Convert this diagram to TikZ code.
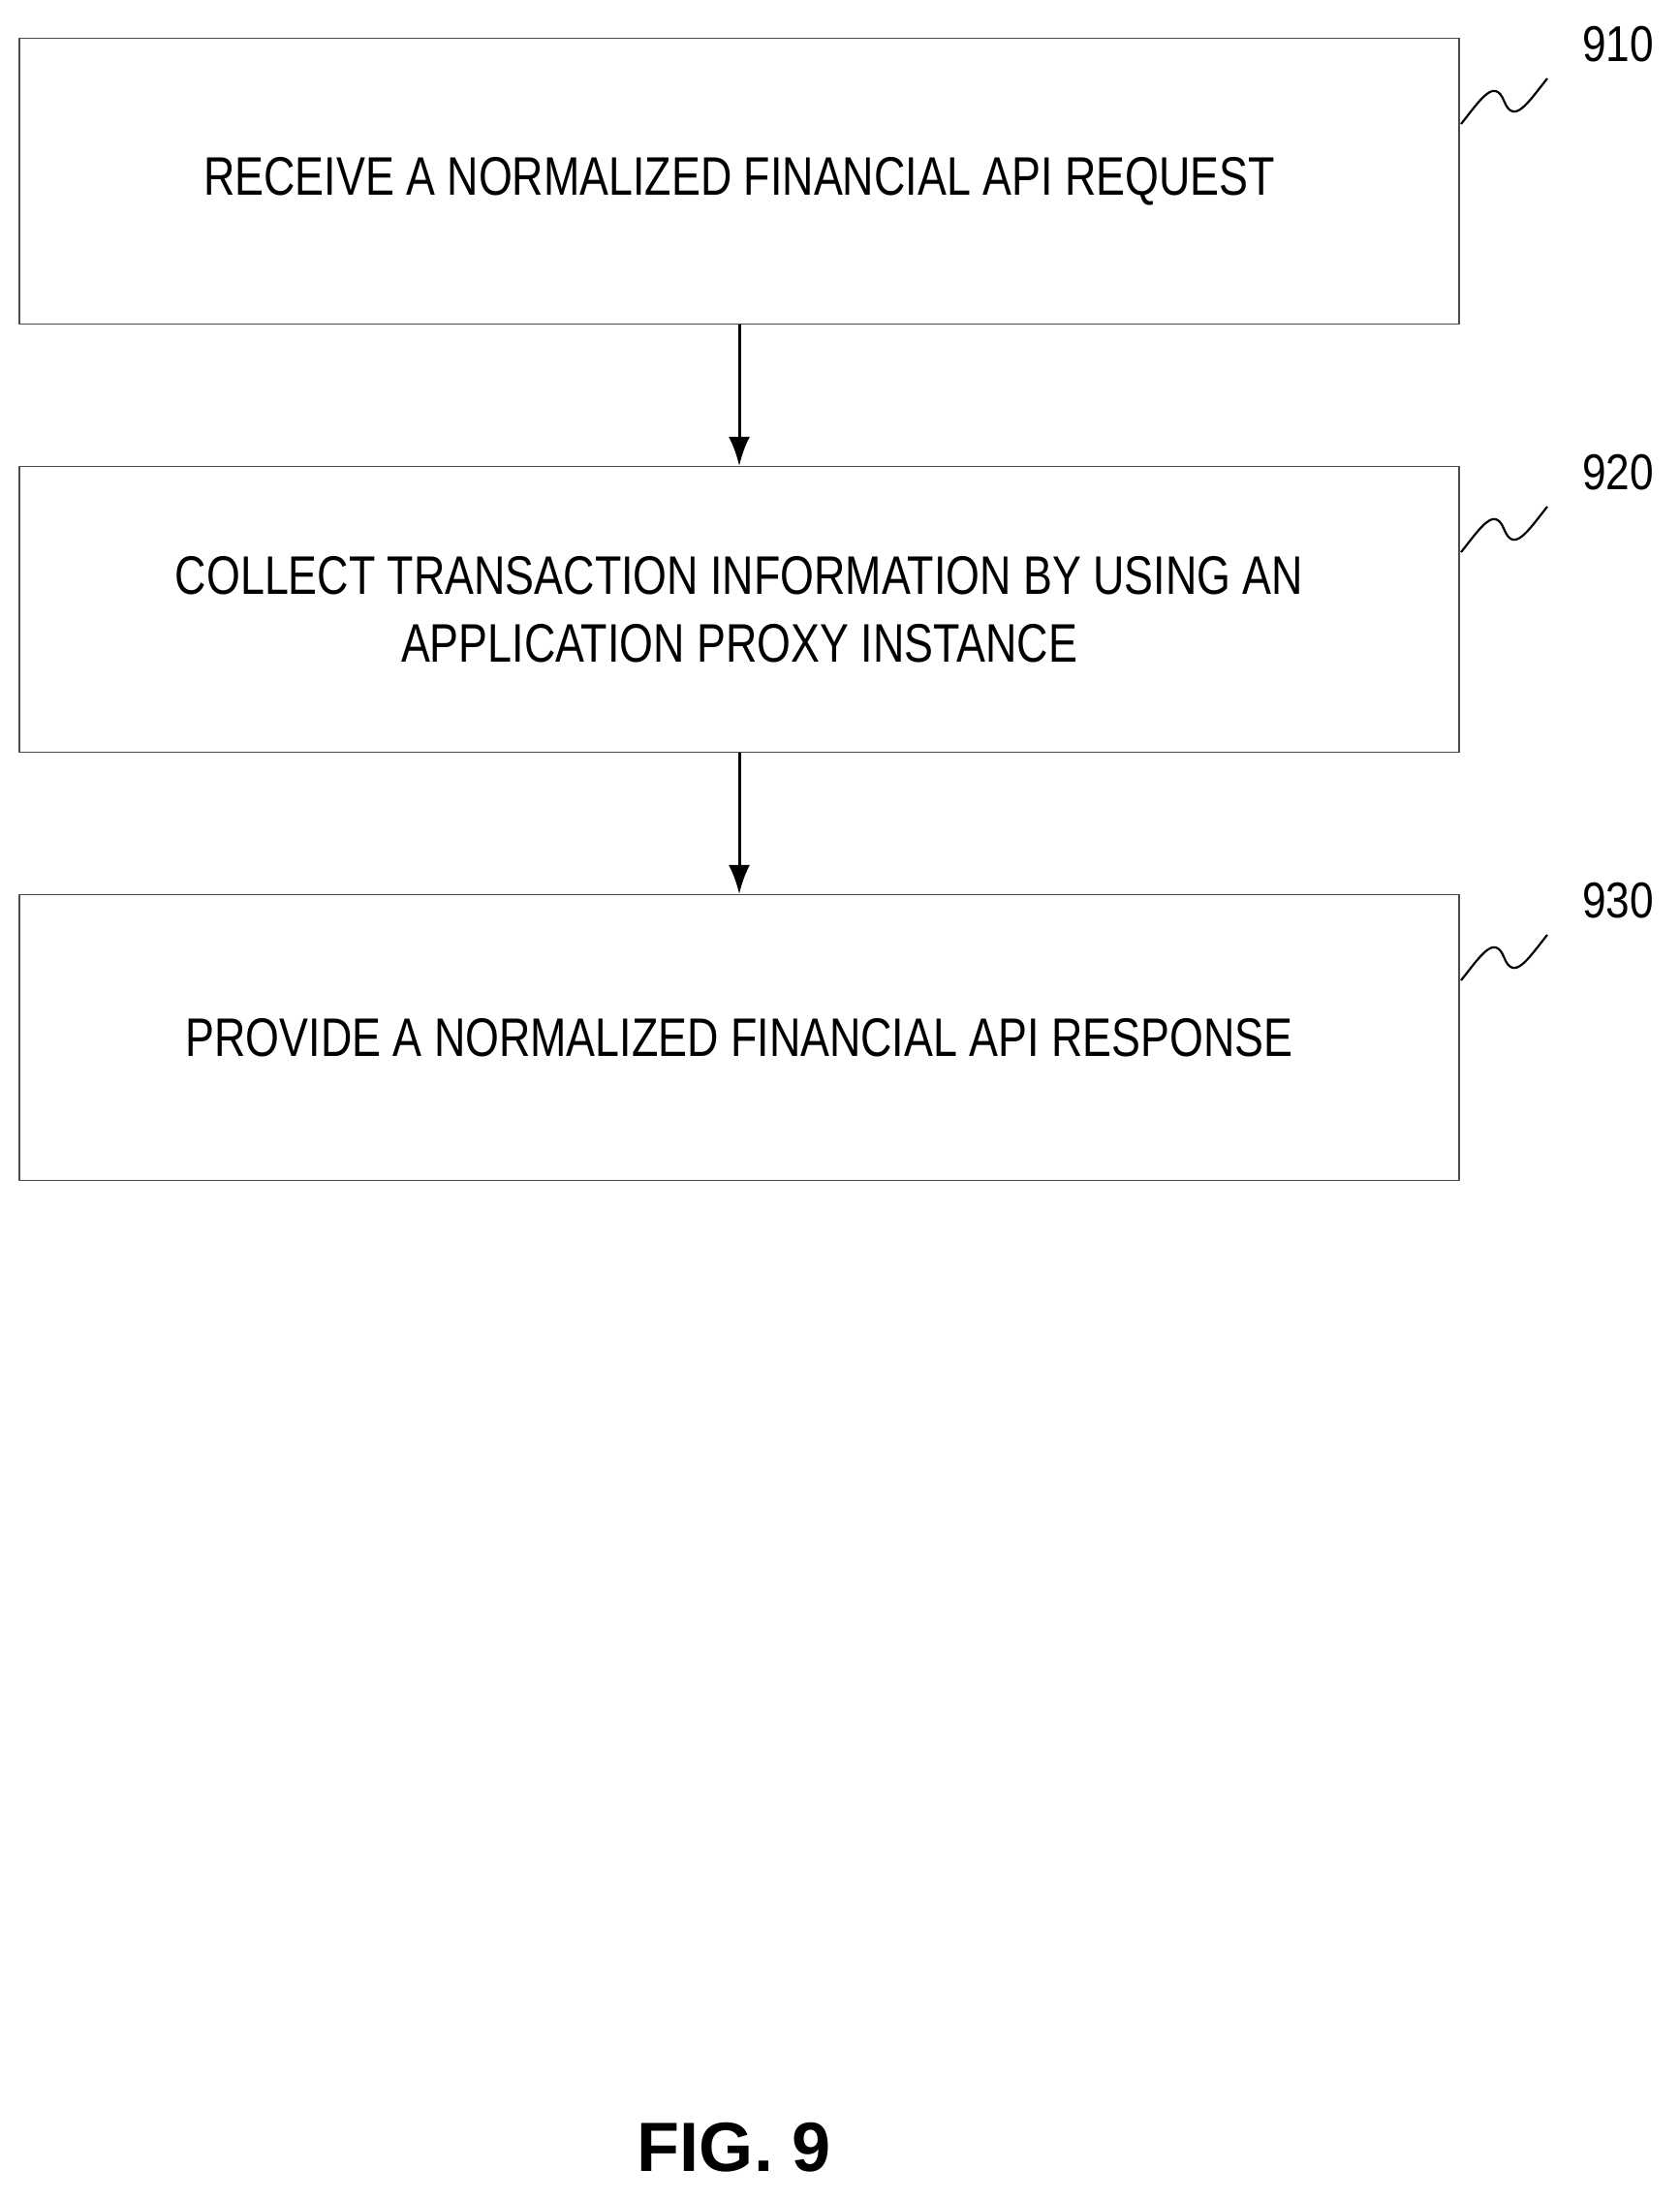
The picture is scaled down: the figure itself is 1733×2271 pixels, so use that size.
\documentclass[tikz,border=0pt]{standalone}
\usepackage{fontspec}
\setmainfont{Liberation Sans}
\usetikzlibrary{arrows.meta,calc}
\begin{document}
\begin{tikzpicture}[x=1pt,y=-1pt,
  box/.style={draw=black!70,line width=1.2pt,minimum width=1486pt,minimum height=295pt,inner sep=0pt},
  txt/.style={font=\fontsize{56}{70}\selectfont,align=center,xscale=0.8},
  lab/.style={font=\fontsize{52}{60}\selectfont,xscale=0.85},
  arr/.style={-{Latex[length=30pt,width=22pt]},line width=3pt},
  sq/.style={line width=2.2pt}]
\useasboundingbox (0,0) rectangle (1733,2271);
\node[box] (b1) at (763,187) {};
\node[box] (b2) at (763,629) {};
\node[box] (b3) at (763,1071) {};
\node[txt] (t1) at (763,187) {RECEIVE A NORMALIZED FINANCIAL API REQUEST};
\node[txt] (t2) at (763,629) {COLLECT TRANSACTION INFORMATION BY USING AN\\APPLICATION PROXY INSTANCE};
\node[txt] (t3) at (763,1071) {PROVIDE A NORMALIZED FINANCIAL API RESPONSE};
\draw[arr] (b1.south) -- (b2.north);
\draw[arr] (b2.south) -- (b3.north);
\foreach \i/\n/\y in {1/910/46,2/920/488,3/930/930}{
  \node[lab] (l\i) at (1670,\y) {\n};
  \coordinate (s\i) at (1508,\y+82);
  \coordinate (e\i) at (1597,\y+35);
  \draw[sq] (s\i) .. controls +(20,-25) and +(-10,-25) .. ($(s\i)!0.5!(e\i)$) .. controls +(10,25) and +(-20,25) .. (e\i);
}
\node[font=\bfseries\fontsize{72}{80}\selectfont] (fig) at (758,2217) {FIG. 9};
\end{tikzpicture}
\end{document}
